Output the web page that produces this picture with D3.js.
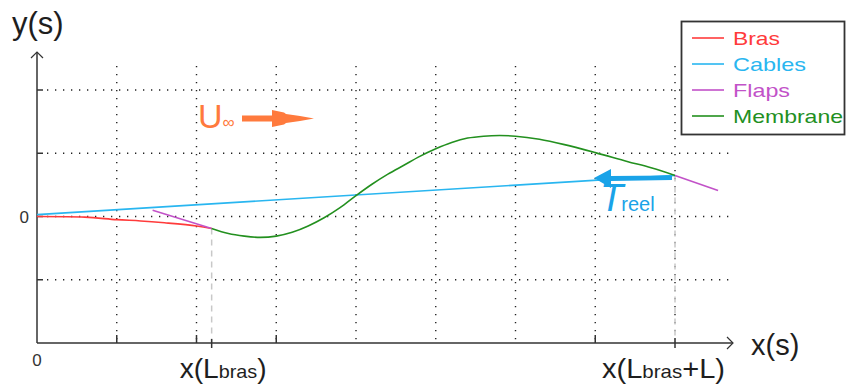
<!DOCTYPE html>
<html><head><meta charset="utf-8">
<script src="https://cdn.jsdelivr.net/npm/d3@7"></script>
<style>body{margin:0;background:#fff}svg{display:block}text{font-family:"Liberation Sans",Arial,sans-serif}</style>
</head><body><svg id="c" width="846" height="387"></svg>
<script>
const series = ["Bras","Cables","Flaps","Membrane"];
const colors = ["#ff3b3b","#29b6f0","#c252c8","#23901f"];
const xGrid = [1,2,3,4,5,6,7,8];
const yGrid = [-1,0,1,2];
const xLbras = 2.19, xLbrasL = 8;
const brasX = [0,0.6,1,1.3,1.6,2,2.19];
const brasY = [0,-0.01,-0.05,-0.07,-0.1,-0.15,-0.19];
const cablesX = [0,8];
const cablesY = [0.03,0.65];
const flaps1X = [1.45,2.19];
const flaps1Y = [0.1,-0.19];
const flaps2X = [8,8.54];
const flaps2Y = [0.65,0.41];
const membX = [2.19,2.4,2.6,2.8,3.0,3.2,3.4,3.6,3.8,4.0,4.2,4.4,4.6,4.8,5.0,5.2,5.4,5.6,5.8,6.0,6.3,6.6,7.0,7.4,7.7,8.0];
const membY = [-0.19,-0.27,-0.31,-0.33,-0.31,-0.25,-0.15,-0.02,0.14,0.33,0.51,0.67,0.81,0.95,1.07,1.17,1.24,1.27,1.28,1.27,1.22,1.14,1.01,0.87,0.77,0.65];

const svg = d3.select("#c");
const x = d3.scaleLinear().domain([0,8]).range([37,675]);
const y = d3.scaleLinear().domain([-2,2]).range([343,90]);
const xEnd = x.invert(733), yTop = y.invert(52);

// grid
const g = svg.append("g").attr("stroke","#222").attr("stroke-width",1.4).attr("stroke-dasharray","1.3,6.7");
g.selectAll("line.h").data(yGrid).join("line")
 .attr("x1",47).attr("x2",733).attr("y1",d=>y(d)).attr("y2",d=>y(d));
g.selectAll("line.v").data(xGrid).join("line")
 .attr("x1",d=>x(d)).attr("x2",d=>x(d)).attr("y1",66).attr("y2",343);

// dashed gray markers
svg.selectAll("line.m").data([[xLbras,-0.19],[xLbrasL,0.65]]).join("line")
 .attr("x1",d=>x(d[0])).attr("x2",d=>x(d[0])).attr("y1",d=>y(d[1])).attr("y2",343)
 .attr("stroke","#c8c8c8").attr("stroke-width",1.5).attr("stroke-dasharray","6,5");

// axes
const ax = svg.append("g").attr("stroke","#333").attr("stroke-width",1.5).attr("fill","none");
ax.append("line").attr("x1",x(0)).attr("x2",x(xEnd)).attr("y1",y(-2)).attr("y2",y(-2));
ax.append("line").attr("x1",x(0)).attr("x2",x(0)).attr("y1",y(-2)).attr("y2",y(yTop));
ax.append("path").attr("d",`M${x(xEnd)-6},${y(-2)-6} L${x(xEnd)},${y(-2)} L${x(xEnd)-6},${y(-2)+6}`).attr("stroke-width",1.2);
ax.append("path").attr("d",`M${x(0)-6},${y(yTop)+6} L${x(0)},${y(yTop)} L${x(0)+6},${y(yTop)+6}`).attr("stroke-width",1.2);
ax.selectAll("line.xt").data([1,2,3,7]).join("line")
 .attr("x1",d=>x(d)).attr("x2",d=>x(d)).attr("y1",y(-2)).attr("y2",y(-2)-8);
ax.selectAll("line.xt2").data([xLbras,xLbrasL]).join("line")
 .attr("x1",d=>x(d)).attr("x2",d=>x(d)).attr("y1",y(-2)-4).attr("y2",y(-2)+5);
ax.selectAll("line.yt").data([-1,0,1,2]).join("line")
 .attr("x1",x(0)).attr("x2",x(0)+6).attr("y1",d=>y(d)).attr("y2",d=>y(d));

// curves
const line = d3.line().x(d=>x(d[0])).y(d=>y(d[1])).curve(d3.curveCatmullRom.alpha(0.5));
const zip = (a,b)=>a.map((v,i)=>[v,b[i]]);
const curves = [
 [zip(cablesX,cablesY),1],
 [zip(brasX,brasY),0],
 [zip(flaps1X,flaps1Y),2],
 [zip(flaps2X,flaps2Y),2],
 [zip(membX,membY),3]
];
svg.selectAll("path.c").data(curves).join("path")
 .attr("d",d=>line(d[0])).attr("fill","none")
 .attr("stroke",d=>colors[d[1]]).attr("stroke-width",1.6);

// axis labels
svg.append("text").attr("x",12).attr("y",34).attr("font-size",31).attr("fill","#1e1e1e").text("y(s)");
svg.append("text").attr("x",751).attr("y",355).attr("font-size",29).attr("fill","#1e1e1e").text("x(s)");
svg.append("text").attr("x",29).attr("y",y(0)+6).attr("font-size",17).attr("text-anchor","end").attr("fill","#333").text("0");
svg.append("text").attr("x",x(0)).attr("y",366).attr("font-size",17).attr("text-anchor","middle").attr("fill","#333").text("0");
function xl(xv, extra, left, w){
 const t = svg.append("text").attr("x",x(xv)+left).attr("y",378).attr("font-size",27).attr("fill","#1e1e1e")
   .attr("textLength",w).attr("lengthAdjust","spacingAndGlyphs");
 t.append("tspan").text("x(L");
 t.append("tspan").attr("font-size",19).text("bras");
 if(extra) t.append("tspan").text(extra);
 t.append("tspan").text(")");
}
xl(xLbras,"",-32,87); xl(xLbrasL,"+L",-73,123);

// legend
const legendW = [47,73,57,110];
const lg = svg.append("g");
lg.append("rect").attr("x",681.5).attr("y",21.5).attr("width",163).attr("height",113)
 .attr("fill","#fff").attr("stroke","#333").attr("stroke-width",1.8);
const rows = lg.selectAll("g.r").data(series).join("g").attr("transform",(d,i)=>`translate(0,${38+i*26})`);
rows.append("line").attr("x1",692).attr("x2",724).attr("y1",0).attr("y2",0)
 .attr("stroke",(d,i)=>colors[i]).attr("stroke-width",1.6);
rows.append("text").attr("x",733).attr("y",7).attr("font-size",19).attr("fill",(d,i)=>colors[i])
 .attr("textLength",(d,i)=>legendW[i]).attr("lengthAdjust","spacingAndGlyphs").text(d=>d);

// U infinity arrow
const orange = "#ff7a3d";
const ut = svg.append("text").attr("x",198).attr("y",128).attr("font-size",34).attr("fill",orange);
ut.append("tspan").text("U");
ut.append("tspan").attr("font-size",17).text("∞");
svg.append("path").attr("fill",orange)
 .attr("d","M242,115.5 L272,115.5 L272,110 L284,112.5 L286,114 L300,116 L314,118.5 L300,121 L286,123 L284,124.5 L272,127 L272,121.5 L242,121.5 Z");

// T reel arrow
const blue = "#1aa3e8";
svg.append("path").attr("fill",blue)
 .attr("d","M672,175.5 L611,176 L611,169 L594,178 L611,188 L611,181 L672,180 Z");
const tt = svg.append("text").attr("x",600).attr("y",211).attr("fill",blue);
tt.append("tspan").attr("font-size",38).attr("font-style","italic").text("T");
tt.append("tspan").attr("font-size",20).attr("dx",-2).text("reel");
</script></body></html>
